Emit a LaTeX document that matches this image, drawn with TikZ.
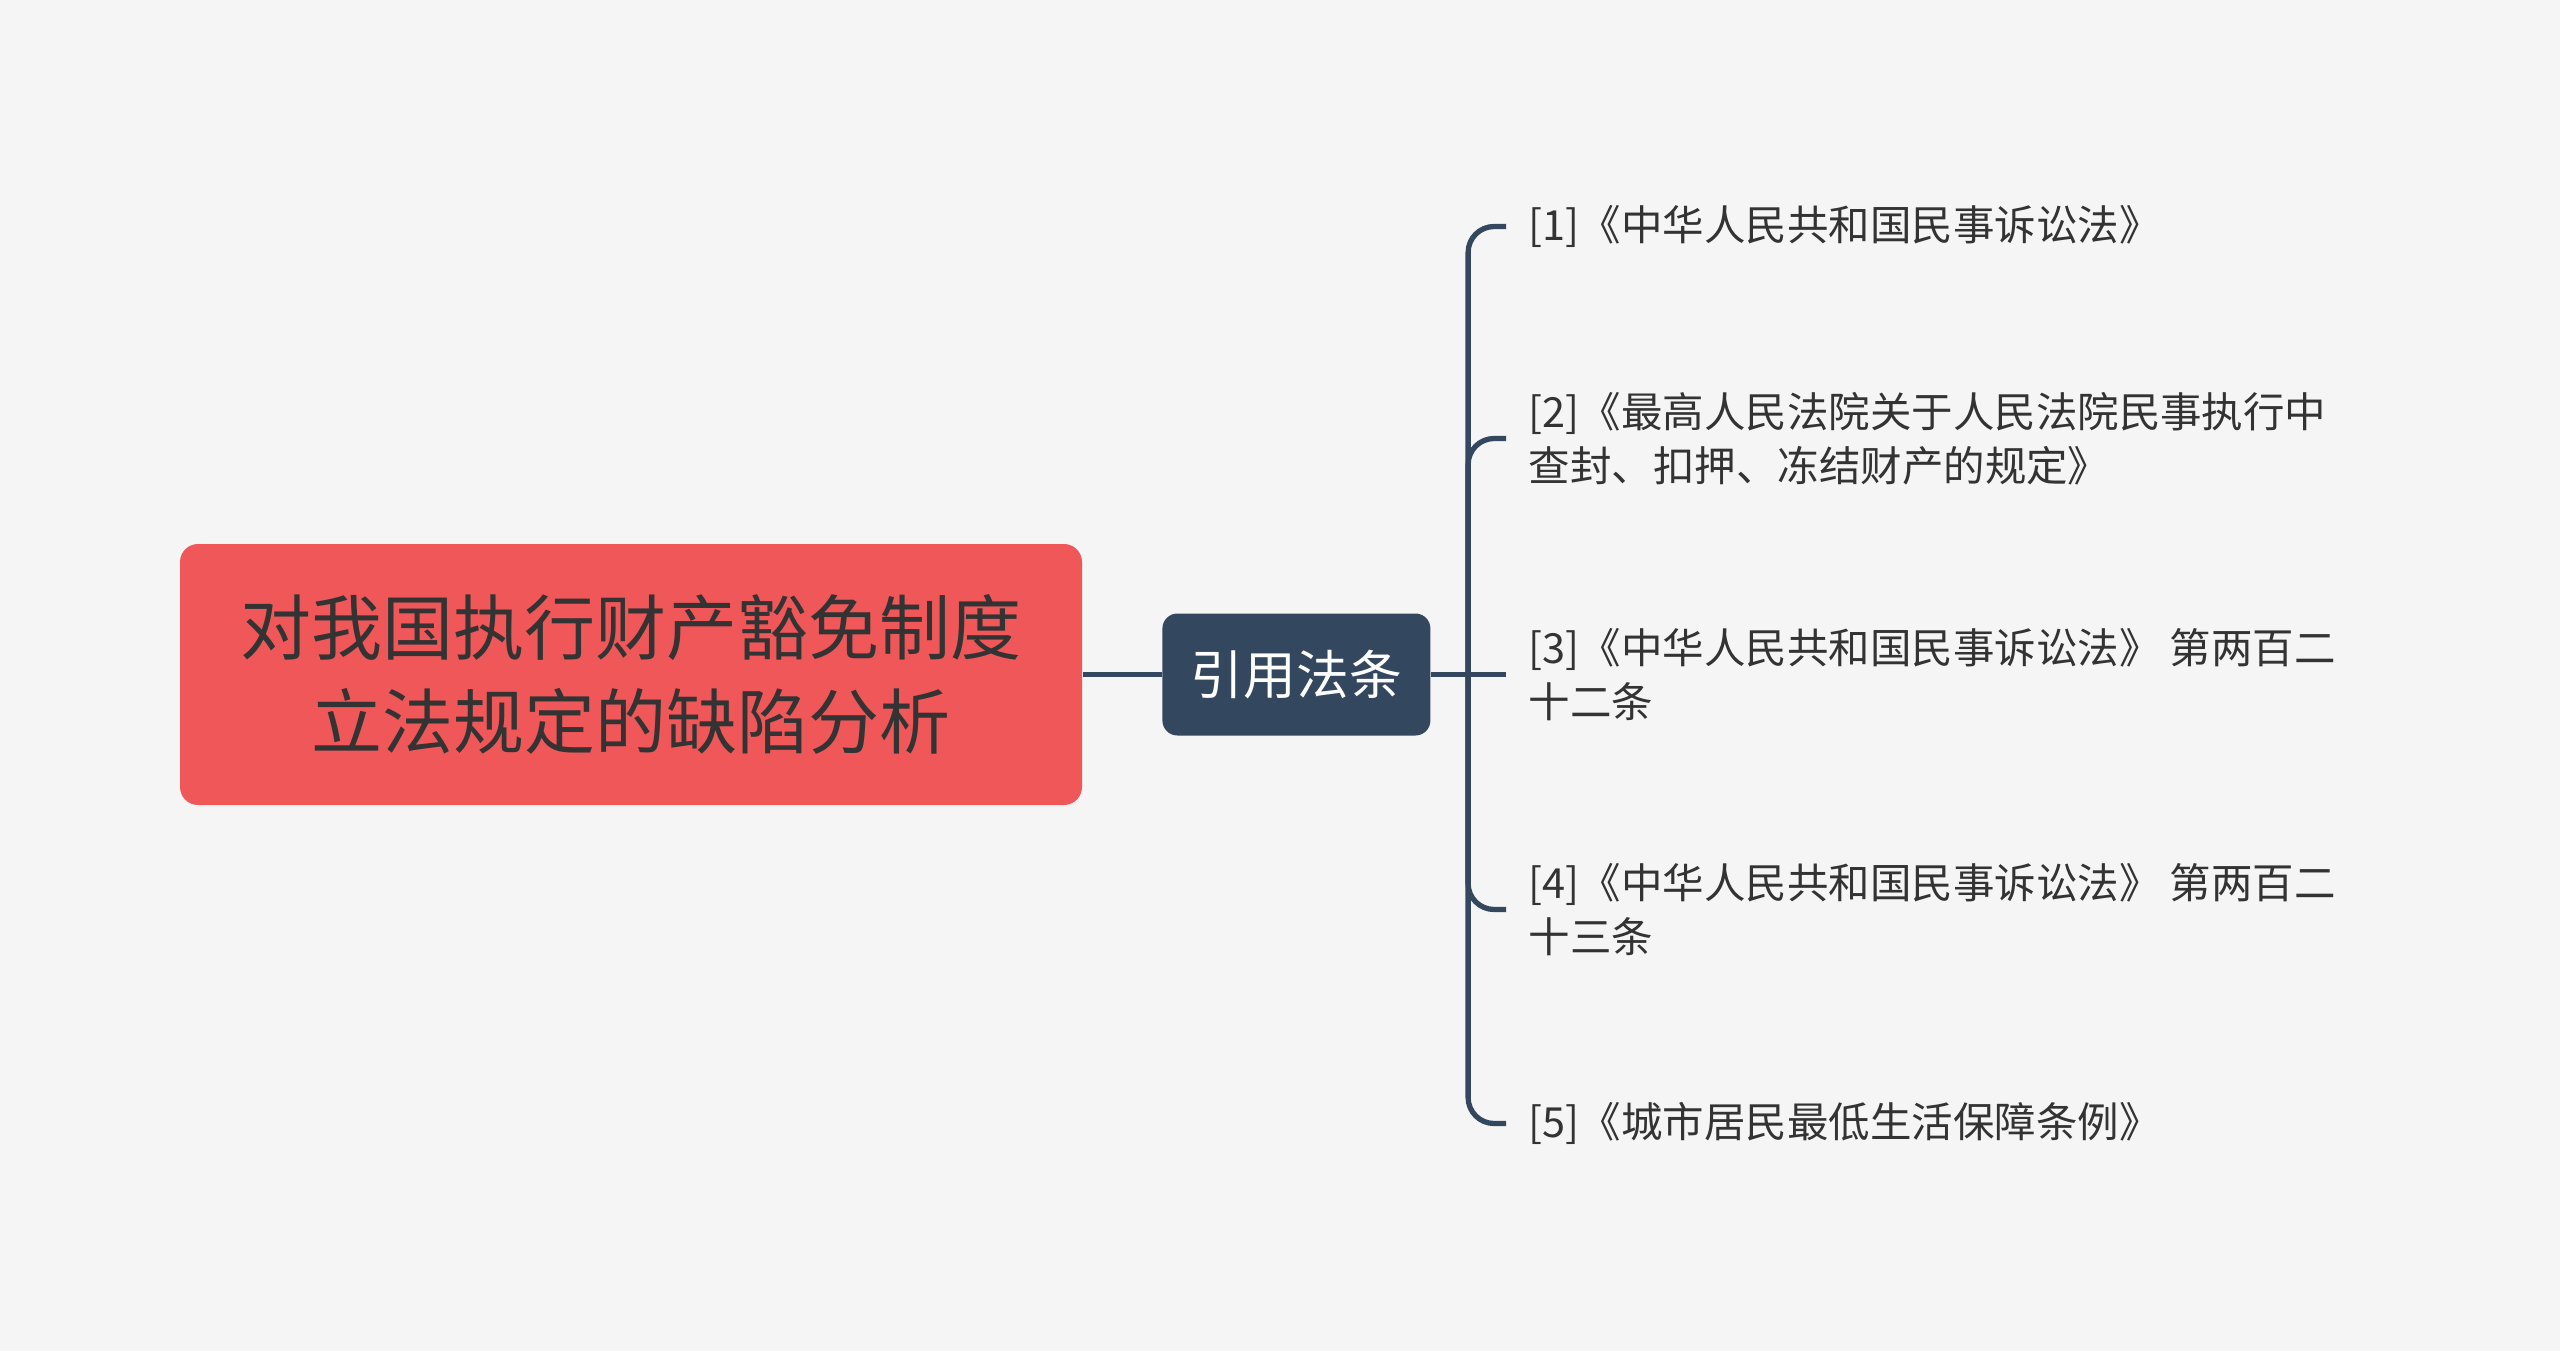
\documentclass[tikz,border=0pt]{standalone}
\usepackage{fontspec}
\usepackage{xcolor}
\usepackage{tikz}
\usetikzlibrary{positioning,calc}
\newfontfamily\cjk{Noto Sans CJK SC}
\definecolor{mapbg}{HTML}{F5F5F5}
\definecolor{mapred}{HTML}{F05759}
\definecolor{mapslate}{HTML}{33475E}
\definecolor{maptext}{HTML}{333333}
\tikzset{
  topic/.style={rounded corners=0.18cm, fill=mapred, text=maptext, align=center, minimum width=9.02cm, minimum height=2.61cm, font=\cjk\fontsize{20.2}{26.5}\selectfont},
  subtopic/.style={rounded corners=0.15cm, fill=mapslate, text=white, align=center, minimum width=2.68cm, minimum height=1.22cm, font=\cjk\fontsize{15}{18}\selectfont},
  leaf/.style={anchor=west, align=left, text=maptext, inner xsep=0.22cm, inner ysep=0pt, font=\cjk\fontsize{11.8}{15.4}\selectfont},
  link/.style={draw=mapslate, line width=1.5pt},
  branch/.style={link, rounded corners=0.26cm}
}

\begin{document}
\begin{tikzpicture}[node distance=0.79cm]
  \fill[mapbg] (0,0) rectangle (25.6,-13.51);
  \useasboundingbox (0,0) rectangle (25.6,-13.51);

  \node[topic] (root) at (6.31,-6.745) {对我国执行财产豁免制度\\立法规定的缺陷分析};
  \node[subtopic, right=of root] (refs) {引用法条};
  \coordinate[right=0.37cm of refs] (hub);

  \node[leaf, right=0.38cm of hub] (leaf3) {[3]《中华人民共和国民事诉讼法》 第两百二\\十二条};
  \node[leaf] (leaf1) at ($(leaf3.west)+(0,4.48)$) {[1]《中华人民共和国民事诉讼法》};
  \node[leaf] (leaf2) at ($(leaf3.west)+(0,2.36)$) {[2]《最高人民法院关于人民法院民事执行中\\查封、扣押、冻结财产的规定》};
  \node[leaf] (leaf4) at ($(leaf3.west)+(0,-2.35)$) {[4]《中华人民共和国民事诉讼法》 第两百二\\十三条};
  \node[leaf] (leaf5) at ($(leaf3.west)+(0,-4.49)$) {[5]《城市居民最低生活保障条例》};

  \draw[link] (root) -- (refs);
  \draw[link] (refs) -- (hub) -- (leaf3.west);
  \foreach \k in {1,2,4,5}
    \draw[branch] (hub) |- (leaf\k.west);
\end{tikzpicture}
\end{document}
